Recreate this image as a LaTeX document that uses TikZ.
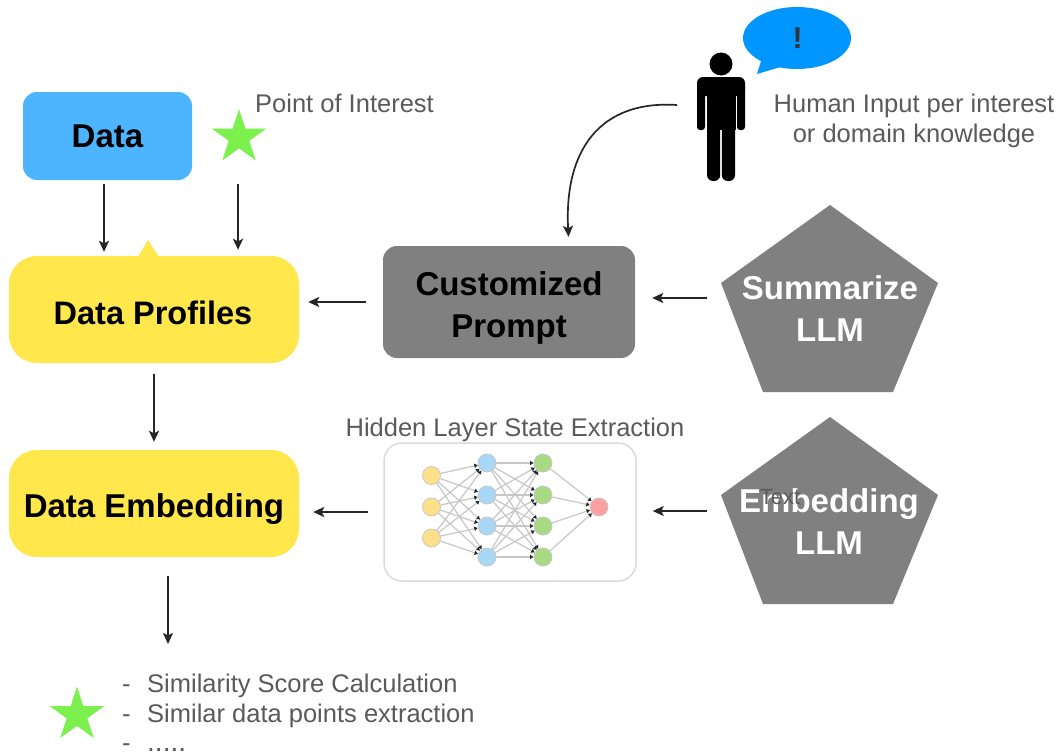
\documentclass[tikz,border=0pt]{standalone}
\usepackage{fontspec}
\setmainfont{Liberation Sans}
\usetikzlibrary{arrows.meta,shapes.geometric,calc}
\newcommand\pxfont[2]{\fontsize{#1}{#2}\selectfont}
\definecolor{databox}{HTML}{4DB5FF}
\definecolor{yellowbox}{HTML}{FFE74C}
\definecolor{greybox}{HTML}{808080}
\definecolor{bubble}{HTML}{0096FF}
\definecolor{starcol}{HTML}{7CF04C}
\definecolor{captext}{HTML}{5A5A5A}
\definecolor{nnyellow}{HTML}{FFE08A}
\definecolor{nnblue}{HTML}{A8D8F5}
\definecolor{nngreen}{HTML}{A8DA84}
\definecolor{nnred}{HTML}{FFA0A0}
\tikzset{
  box/.style={rounded corners=#1,inner sep=0pt},
  head/.style={font=\bfseries\pxfont{33}{42},text=black,align=center,inner sep=0pt},
  arr/.style={line width=1.7pt,color=black!85,-{Stealth[length=11pt,width=10pt,inset=2.5pt]}},
  poi/.style={star,star points=5,star point ratio=2.618,minimum size=56.8pt,inner sep=0pt,fill=starcol},
  captxt/.style={font=\pxfont{25.5}{30},text=captext,inner sep=0pt},
  pent/.style={fill=greybox},
  penttext/.style={font=\bfseries\pxfont{33}{42},text=white,align=center,inner sep=0pt},
  nn/.style={circle,minimum size=18pt,inner sep=0pt,draw=black!22,line width=0.8pt},
  nnedge/.style={color=black!22,line width=1.2pt,-{Latex[length=3.5pt,width=5pt,black!85]}},
}
\begin{document}
\begin{tikzpicture}[x=1pt,y=-1pt]
\useasboundingbox (0,0) rectangle (1059,755);
\fill[white] (0,0) rectangle (1059,755);

% boxes
\node[box=14pt,fill=databox,minimum width=169pt,minimum height=88pt] (data) at (107.5,136) {};
\node[head] (datatxt) at (107.5,136) {Data};
\fill[yellowbox] (138,257) -- (148,240) -- (159,257) -- cycle;
\node[box=28pt,fill=yellowbox,minimum width=290pt,minimum height=107pt] (prof) at (154,309.5) {};
\node[head,font=\bfseries\pxfont{32.5}{42}] (proftxt) at (153,312.5) {Data Profiles};
\node[box=28pt,fill=yellowbox,minimum width=290pt,minimum height=107pt] (emb) at (154,503.5) {};
\node[head] (embtxt) at (154,509.5) {Data Embedding};
\node[box=14pt,fill=greybox,minimum width=252pt,minimum height=112pt] (prompt) at (509,302) {};
\node[head] (prompttxt) at (509,308) {Customized\\Prompt};
\node[box=18pt,draw=black!14,line width=1.5pt,fill=white,minimum width=252pt,minimum height=138pt] (nnbox) at (510,512) {};

% stars
\node[poi] (poi) at (239,137.5) {};
\node[poi] (result) at (77,715) {};

% pentagons
\fill[pent] (830,205) -- (938,283) -- (893,392) -- (763,392) -- (721,283) -- cycle;
\fill[pent] (830,417) -- (938,495) -- (893,604) -- (763,604) -- (721,495) -- cycle;
\coordinate (sumL) at (721,298);
\coordinate (embL) at (721,511);
\coordinate (out) at (168,644);
\node[penttext] (sum) at (830,309) {Summarize\\LLM};
\node[penttext] (emblm) at (829,522) {Embedding\\LLM};
\node[font=\pxfont{22}{26},text=captext,inner sep=0pt] (txt) at (780,497) {Text};

% neural network
\foreach \i/\y in {1/475.5,2/507,3/538}
  \node[nn,fill=nnyellow] (a\i) at (431.5,\y) {};
\foreach \i/\y in {1/463,2/495,3/526,4/557}{
  \node[nn,fill=nnblue] (b\i) at (487,\y) {};
  \node[nn,fill=nngreen] (c\i) at (543,\y) {};
}
\node[nn,fill=nnred] (d) at (599,507) {};
\foreach \i in {1,2,3}\foreach \j in {1,2,3,4}
  \draw[nnedge] (a\i) -- (b\j);
\foreach \i in {1,2,3,4}\foreach \j in {1,2,3,4}
  \draw[nnedge] (b\i) -- (c\j);
\foreach \i in {1,2,3,4}
  \draw[nnedge] (c\i) -- (d);

% person
\fill[black] (721,64) circle[radius=11.5];
\fill[black,rounded corners=6pt] (697,77) rectangle (745,96);
\fill[black,rounded corners=3pt] (697,84) rectangle (705,130);
\fill[black,rounded corners=3pt] (737,84) rectangle (745,130);
\fill[black] (706.5,84) rectangle (735.5,130);
\fill[black,rounded corners=6pt] (707,120) rectangle (720.2,181);
\fill[black,rounded corners=6pt] (721.8,120) rectangle (735,181);
\coordinate (person) at (677,105);

% bubble
\fill[bubble] (797,38) ellipse[x radius=54,y radius=31];
\fill[bubble] (762,58) -- (757,74) -- (784,66) -- cycle;
\node[font=\bfseries\pxfont{30}{30},text=black!80,inner sep=0pt] (bang) at (797.5,38) {!};

% connectors
\draw[arr,shorten <=4pt,shorten >=4pt] ([xshift=-3.5pt]data.south) -- ([xshift=-3.5pt]data.south |- prof.north);
\draw[arr,shorten <=46pt,shorten >=6pt] ([xshift=-1pt]poi.center) -- ([xshift=-1pt]poi.center |- prof.north);
\draw[arr,shorten <=11pt,shorten >=8pt] (prof.south) -- (emb.north);
\draw[arr,shorten <=19pt] ([xshift=14pt]emb.south) -- (out);
\draw[arr,shorten <=17pt,shorten >=9pt] (prompt.west) -- (prompt.west -| prof.east);
\draw[arr,shorten <=14pt,shorten >=17pt] (sumL) -- (sumL -| prompt.east);
\draw[arr,shorten <=15pt,shorten >=14pt] (nnbox.west) -- (emb.east |- nnbox.west);
\draw[arr,shorten <=14pt,shorten >=16pt] (embL) -- (embL -| nnbox.east);
\draw[arr,shorten >=9pt]
  (person) .. controls (600,100) and (564,150) .. ([xshift=60pt]prompt.north);

% captions
\node[captxt,anchor=base west] (poilabel) at (255,112) {Point of Interest};
\node[captxt,anchor=base] (hidden) at (515,436) {Hidden Layer State Extraction};
\node[captxt,align=center,anchor=center] (human) at (914,121) {Human Input per interest\\or domain knowledge};
\node[captxt,anchor=base west] (l1) at (147,692) {Similarity Score Calculation};
\node[captxt,anchor=base west] (l2) at (147,722) {Similar data points extraction};
\node[captxt,anchor=base west,font=\pxfont{28}{30}] (l3) at (147,751) {.....};
\node[captxt,anchor=base west] (d1) at (122,692) {-};
\node[captxt,anchor=base west] (d2) at (122,722) {-};
\node[captxt,anchor=base west] (d3) at (122,751) {-};
\end{tikzpicture}
\end{document}
